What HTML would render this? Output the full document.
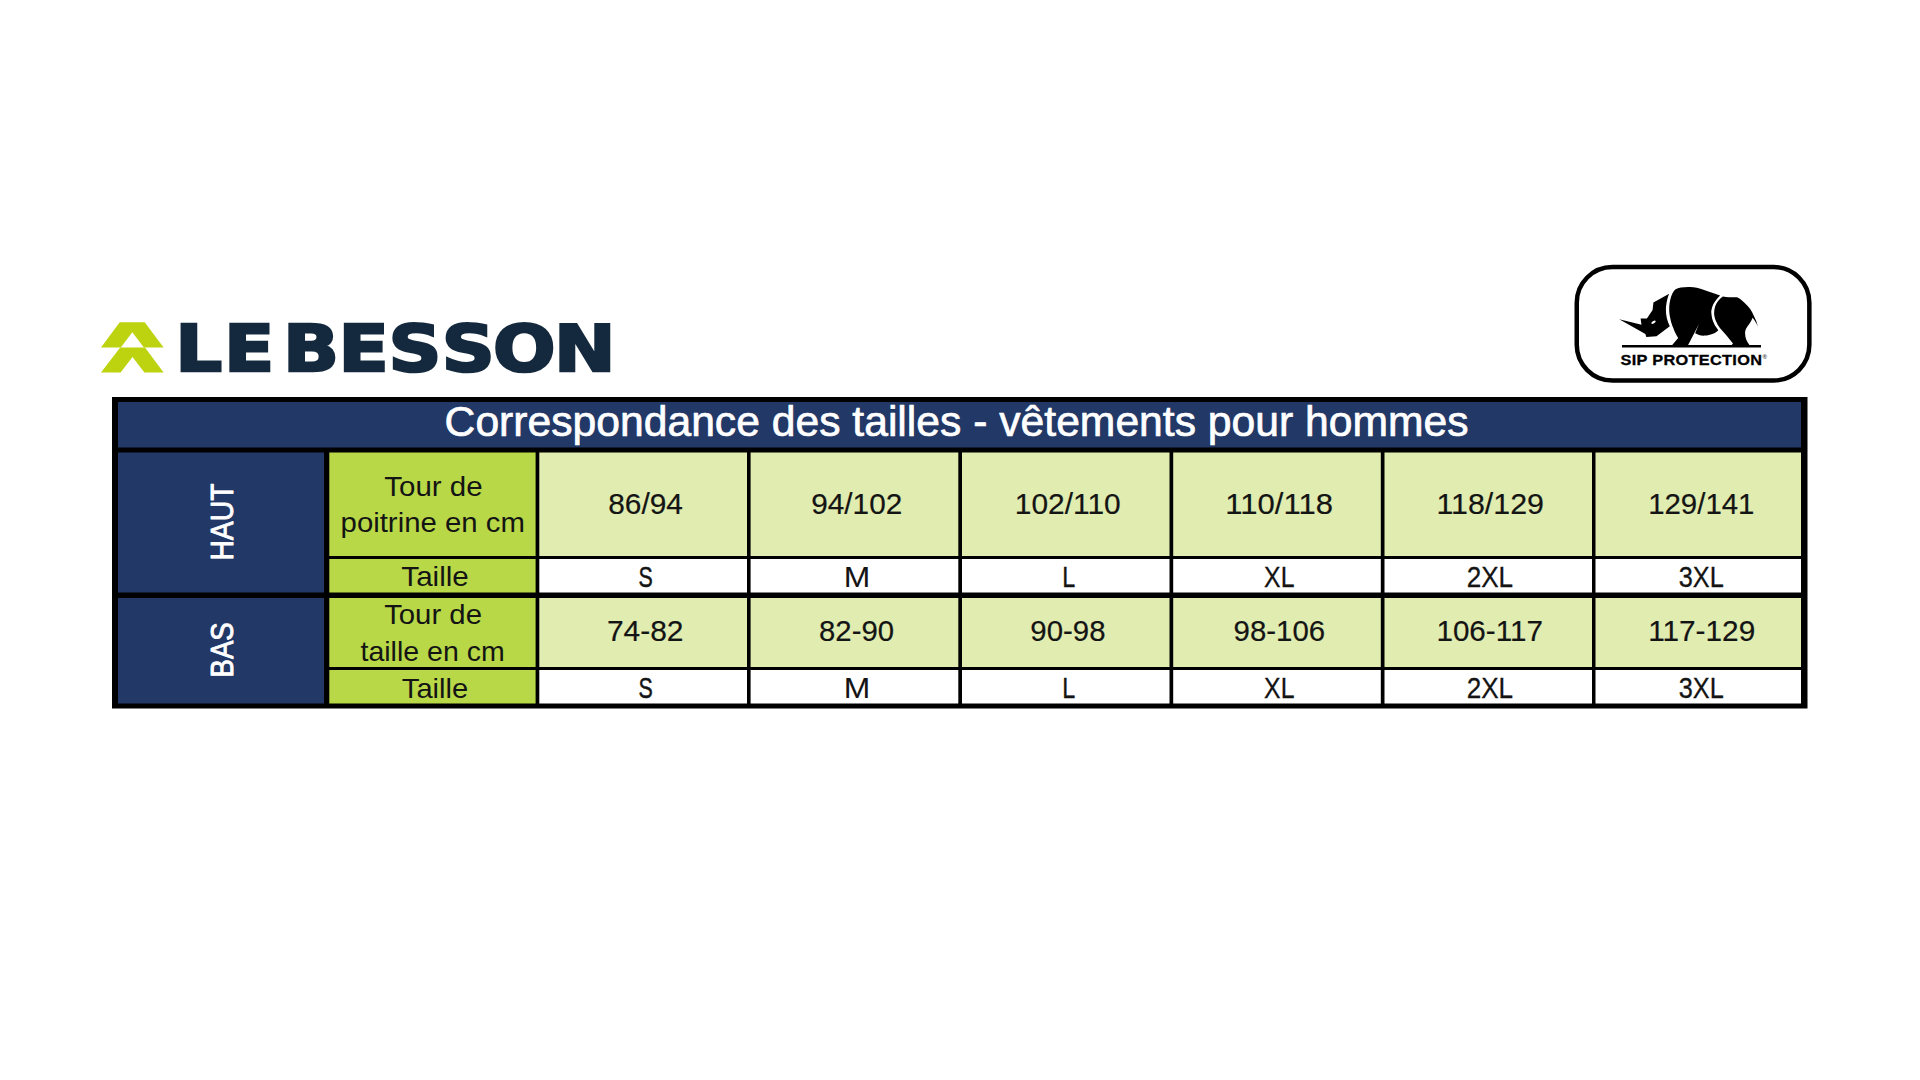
<!DOCTYPE html>
<html lang="fr"><head><meta charset="utf-8"><title>Correspondance des tailles - vêtements pour hommes</title>
<style>html,body{margin:0;padding:0;background:#fff;overflow:hidden}svg{display:block}</style></head>
<body>
<svg width="1920" height="1080" viewBox="0 0 1920 1080">
<rect width="1920" height="1080" fill="#fff"/>
<path fill="#bdd30f" d="M119.7 322.2 L144.7 322.2 L163.6 347.4 L143.9 347.4 L132.3 332.2 L120.8 347.4 L101.0 347.4 Z"/>
<path fill="#bdd30f" d="M120.2 347.4 L145.0 347.4 L163.6 372.5 L144.4 372.5 L132.5 357.1 L120.6 372.5 L101.0 372.5 Z"/>
<text transform="translate(0 371.05) scale(1.1445 1)" x="153.16 195.79 221.49 247.19 295.75 339.46 386.03 430.70 484.04" y="0" font-family="'DejaVu Sans', 'Liberation Sans', Arial, sans-serif" font-weight="700" font-size="64.27" fill="#14293d" stroke="#14293d" stroke-width="2.5" stroke-linejoin="miter">LE BESSON</text>
<rect x="1576.75" y="267.05" width="232.6" height="113.5" rx="35.7" ry="35.7" fill="#fff" stroke="#000" stroke-width="4.5"/>
<path d="M1619.2 319.2 L1641.5 324.7 L1640.6 318.4 L1646.9 318.4 L1652.6 310.0 L1653.4 302.5 L1669.2 293.7 C1667.6 297 1666.2 303 1665.9 309.1 C1665.7 315 1667.2 321.5 1669.8 326.2 L1656.5 336.2 L1646.3 336.9 L1645.4 334.1 Z" fill="#000"/>
<path d="M1675.2 289.5 C1679 287.6 1684 286.9 1690 287.1 C1695 287.3 1699 288.2 1702 289.2 C1706 290.5 1709.5 291.9 1712.9 293.1 L1720.1 295.5 C1716 299.5 1713.2 303.5 1712.3 306.7 C1711.3 310 1711.1 312 1711.4 313.3 C1711.6 316 1712 318 1712.6 319.9 C1713.6 322.6 1714.6 324.6 1715.3 325.9 L1718.3 330.2 C1716.5 332 1714.8 333 1712.9 333.8 C1710 335 1707.5 335.6 1705 335.6 C1702.5 335.7 1700.5 335.5 1699 335 L1695.1 333.2 L1699 324.1 L1688.1 344.9 L1672.2 344.9 L1678.2 338 C1676 334.5 1674.5 331.5 1673.4 328.3 C1671.8 324.5 1670.9 321.5 1670.4 318.7 C1669.6 315.5 1669.2 312.5 1669.2 309.1 C1669.2 304.5 1669.9 300.5 1671 297 C1672 293.8 1673.4 291.2 1675.2 289.5 Z" fill="#000"/>
<path d="M1722.8 296.4 C1725 296.8 1727 297.1 1729.1 297.3 L1737 297.3 C1739.8 298.6 1742 300.3 1744.2 302.5 C1746.6 304.8 1748.5 306.9 1750.2 309.1 C1751.6 311.2 1752.8 313.4 1753.8 315.7 C1754.7 317.5 1755.5 319.3 1756.2 321.1 L1758 326.8 C1756.5 323.5 1754.7 320.4 1752.6 317.8 C1751.8 319.8 1750.8 321.7 1749.6 323.5 C1748.3 325.3 1747.1 326.9 1746.3 328.3 C1745.4 330 1745 332 1745.1 333.8 C1745.2 336 1745.6 338 1746.3 339.8 C1747.1 341.8 1748.3 343.6 1749.6 345.2 L1731.5 345.2 L1733 343.4 L1726.1 335 L1720.1 328.3 C1718.3 326 1716.9 323.6 1715.9 321.1 C1714.9 318.6 1714.2 316 1714.1 313.3 C1714.1 310.8 1714.5 308.4 1715.3 306.1 C1716 304.2 1717 302.4 1718.3 300.7 C1719.6 299.1 1721.1 297.6 1722.8 296.4 Z" fill="#000"/>
<ellipse cx="1653.5" cy="322.2" rx="2.5" ry="1.1" transform="rotate(-32 1653.5 322.2)" fill="#fff"/>
<rect x="1622.0" y="345.0" width="139.0" height="2.5" fill="#000"/>
<text transform="translate(1620.54 364.80) scale(1.07 1)" font-family="'Liberation Sans', Arial, Helvetica, sans-serif" font-weight="700" font-size="15.26" letter-spacing="0.278" fill="#000" stroke="#000" stroke-width="0.3">SIP PROTECTION</text>
<text x="1762.6" y="358.6" font-family="'Liberation Sans', Arial, Helvetica, sans-serif" font-size="6" fill="#444" font-weight="700">®</text>
<rect x="112.00" y="397.00" width="1695.50" height="311.50" fill="#000"/>
<rect x="118.00" y="402.00" width="1683.00" height="45.50" fill="#223867"/>
<rect x="118.00" y="452.50" width="206.00" height="140.00" fill="#223867"/>
<rect x="118.00" y="598.00" width="206.00" height="105.50" fill="#223867"/>
<rect x="329.30" y="452.50" width="206.30" height="103.50" fill="#b8d847"/>
<rect x="539.30" y="452.50" width="207.70" height="103.50" fill="#e0ecb0"/>
<rect x="750.60" y="452.50" width="207.70" height="103.50" fill="#e0ecb0"/>
<rect x="962.00" y="452.50" width="207.50" height="103.50" fill="#e0ecb0"/>
<rect x="1173.20" y="452.50" width="207.60" height="103.50" fill="#e0ecb0"/>
<rect x="1384.50" y="452.50" width="207.50" height="103.50" fill="#e0ecb0"/>
<rect x="1595.50" y="452.50" width="205.50" height="103.50" fill="#e0ecb0"/>
<rect x="329.30" y="559.00" width="206.30" height="33.50" fill="#b8d847"/>
<rect x="539.30" y="559.00" width="207.70" height="33.50" fill="#fff"/>
<rect x="750.60" y="559.00" width="207.70" height="33.50" fill="#fff"/>
<rect x="962.00" y="559.00" width="207.50" height="33.50" fill="#fff"/>
<rect x="1173.20" y="559.00" width="207.60" height="33.50" fill="#fff"/>
<rect x="1384.50" y="559.00" width="207.50" height="33.50" fill="#fff"/>
<rect x="1595.50" y="559.00" width="205.50" height="33.50" fill="#fff"/>
<rect x="329.30" y="598.00" width="206.30" height="69.00" fill="#b8d847"/>
<rect x="539.30" y="598.00" width="207.70" height="69.00" fill="#e0ecb0"/>
<rect x="750.60" y="598.00" width="207.70" height="69.00" fill="#e0ecb0"/>
<rect x="962.00" y="598.00" width="207.50" height="69.00" fill="#e0ecb0"/>
<rect x="1173.20" y="598.00" width="207.60" height="69.00" fill="#e0ecb0"/>
<rect x="1384.50" y="598.00" width="207.50" height="69.00" fill="#e0ecb0"/>
<rect x="1595.50" y="598.00" width="205.50" height="69.00" fill="#e0ecb0"/>
<rect x="329.30" y="670.00" width="206.30" height="33.50" fill="#b8d847"/>
<rect x="539.30" y="670.00" width="207.70" height="33.50" fill="#fff"/>
<rect x="750.60" y="670.00" width="207.70" height="33.50" fill="#fff"/>
<rect x="962.00" y="670.00" width="207.50" height="33.50" fill="#fff"/>
<rect x="1173.20" y="670.00" width="207.60" height="33.50" fill="#fff"/>
<rect x="1384.50" y="670.00" width="207.50" height="33.50" fill="#fff"/>
<rect x="1595.50" y="670.00" width="205.50" height="33.50" fill="#fff"/>
<g font-family="'Liberation Sans', Arial, Helvetica, sans-serif">
<text transform="translate(444.60 435.92) scale(0.9994 1)" font-size="42.68" font-weight="400" fill="#fff" stroke="#fff" stroke-width="0.7" stroke-linejoin="round">Correspondance des tailles - vêtements pour hommes</text>
<text transform="translate(384.24 495.90) scale(1.0458 1)" font-size="28.20" font-weight="400" fill="#141414">Tour de</text>
<text transform="translate(340.57 532.20) scale(1.0409 1)" font-size="28.20" font-weight="400" fill="#141414">poitrine en cm</text>
<text transform="translate(401.34 586.30) scale(1.0608 1)" font-size="27.91" font-weight="400" fill="#141414">Taille</text>
<text transform="translate(384.14 623.60) scale(1.0404 1)" font-size="28.20" font-weight="400" fill="#141414">Tour de</text>
<text transform="translate(360.50 660.90) scale(1.0110 1)" font-size="28.20" font-weight="400" fill="#141414">taille en cm</text>
<text transform="translate(401.84 697.60) scale(1.0286 1)" font-size="28.34" font-weight="400" fill="#141414">Taille</text>
<text transform="translate(608.17 513.88) scale(1.0450 1)" font-size="28.60" font-weight="400" fill="#141414" stroke="#141414" stroke-width="0.2" stroke-linejoin="round">86/94</text>
<text transform="translate(811.31 513.88) scale(1.0393 1)" font-size="28.60" font-weight="400" fill="#141414" stroke="#141414" stroke-width="0.2" stroke-linejoin="round">94/102</text>
<text transform="translate(1014.83 513.88) scale(1.0461 1)" font-size="28.60" font-weight="400" fill="#141414" stroke="#141414" stroke-width="0.2" stroke-linejoin="round">102/110</text>
<text transform="translate(1225.36 513.88) scale(1.0855 1)" font-size="28.60" font-weight="400" fill="#141414" stroke="#141414" stroke-width="0.2" stroke-linejoin="round">110/118</text>
<text transform="translate(1436.40 513.88) scale(1.0621 1)" font-size="28.60" font-weight="400" fill="#141414" stroke="#141414" stroke-width="0.2" stroke-linejoin="round">118/129</text>
<text transform="translate(1648.16 513.88) scale(1.0287 1)" font-size="28.60" font-weight="400" fill="#141414" stroke="#141414" stroke-width="0.2" stroke-linejoin="round">129/141</text>
<text transform="translate(638.43 586.60) scale(0.7144 1)" font-size="29.94" font-weight="400" fill="#141414" stroke="#141414" stroke-width="0.49" stroke-linejoin="round">S</text>
<text transform="translate(843.71 586.60) scale(1.0639 1)" font-size="29.94" font-weight="400" fill="#141414" stroke="#141414" stroke-width="0.04" stroke-linejoin="round">M</text>
<text transform="translate(1062.37 586.60) scale(0.7813 1)" font-size="29.94" font-weight="400" fill="#141414" stroke="#141414" stroke-width="0.4" stroke-linejoin="round">L</text>
<text transform="translate(1264.11 586.60) scale(0.8275 1)" font-size="29.94" font-weight="400" fill="#141414" stroke="#141414" stroke-width="0.34" stroke-linejoin="round">XL</text>
<text transform="translate(1466.68 586.60) scale(0.8723 1)" font-size="29.94" font-weight="400" fill="#141414" stroke="#141414" stroke-width="0.29" stroke-linejoin="round">2XL</text>
<text transform="translate(1678.71 586.60) scale(0.8451 1)" font-size="29.94" font-weight="400" fill="#141414" stroke="#141414" stroke-width="0.32" stroke-linejoin="round">3XL</text>
<text transform="translate(606.90 641.38) scale(1.0476 1)" font-size="28.60" font-weight="400" fill="#141414" stroke="#141414" stroke-width="0.2" stroke-linejoin="round">74-82</text>
<text transform="translate(819.08 641.38) scale(1.0247 1)" font-size="28.60" font-weight="400" fill="#141414" stroke="#141414" stroke-width="0.2" stroke-linejoin="round">82-90</text>
<text transform="translate(1030.32 641.38) scale(1.0278 1)" font-size="28.60" font-weight="400" fill="#141414" stroke="#141414" stroke-width="0.2" stroke-linejoin="round">90-98</text>
<text transform="translate(1233.62 641.38) scale(1.0284 1)" font-size="28.60" font-weight="400" fill="#141414" stroke="#141414" stroke-width="0.2" stroke-linejoin="round">98-106</text>
<text transform="translate(1436.45 641.38) scale(1.0353 1)" font-size="28.60" font-weight="400" fill="#141414" stroke="#141414" stroke-width="0.2" stroke-linejoin="round">106-117</text>
<text transform="translate(1648.14 641.38) scale(1.0413 1)" font-size="28.60" font-weight="400" fill="#141414" stroke="#141414" stroke-width="0.2" stroke-linejoin="round">117-129</text>
<text transform="translate(638.43 698.10) scale(0.7144 1)" font-size="29.94" font-weight="400" fill="#141414" stroke="#141414" stroke-width="0.49" stroke-linejoin="round">S</text>
<text transform="translate(843.71 698.10) scale(1.0639 1)" font-size="29.94" font-weight="400" fill="#141414" stroke="#141414" stroke-width="0.04" stroke-linejoin="round">M</text>
<text transform="translate(1062.37 698.10) scale(0.7813 1)" font-size="29.94" font-weight="400" fill="#141414" stroke="#141414" stroke-width="0.4" stroke-linejoin="round">L</text>
<text transform="translate(1264.11 698.10) scale(0.8275 1)" font-size="29.94" font-weight="400" fill="#141414" stroke="#141414" stroke-width="0.34" stroke-linejoin="round">XL</text>
<text transform="translate(1466.68 698.10) scale(0.8723 1)" font-size="29.94" font-weight="400" fill="#141414" stroke="#141414" stroke-width="0.29" stroke-linejoin="round">2XL</text>
<text transform="translate(1678.71 698.10) scale(0.8451 1)" font-size="29.94" font-weight="400" fill="#141414" stroke="#141414" stroke-width="0.32" stroke-linejoin="round">3XL</text>
<text transform="translate(233.40 560.62) rotate(-90) scale(0.9160 1)" font-size="30.96" font-weight="400" fill="#fff" stroke="#fff" stroke-width="0.9" stroke-linejoin="round">HAUT</text>
<text transform="translate(233.40 677.45) rotate(-90) scale(0.8896 1)" font-size="30.96" font-weight="400" fill="#fff" stroke="#fff" stroke-width="0.9" stroke-linejoin="round">BAS</text>
</g>
</svg>
</body></html>
